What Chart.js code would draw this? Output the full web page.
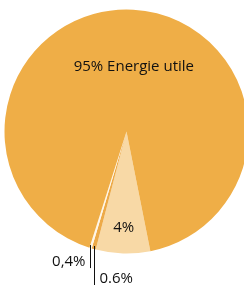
<!DOCTYPE html>
<html>
<head>
<meta charset="utf-8">
<script src="https://cdn.jsdelivr.net/npm/chart.js@4"></script>
<style>
  html, body { margin: 0; padding: 0; background: #fff; width: 244px; height: 285px; overflow: hidden; }
  #wrap { position: absolute; left: 0; top: 0; width: 250px; height: 285px; }
</style>
</head>
<body>
<div id="wrap"><canvas id="c"></canvas></div>
<script>
// Slice values as drawn in the picture (visual share of the circle)
const categories = ['4%', '0.6%', '0,4%', '95% Energie utile'];
const sliceValues = [7.2, 0.55, 0.3, 91.95];
const sliceColors = ['#F8D9A6', '#EDAA48', '#FFF6E6', '#EFAE47'];

const labelPlugin = {
  id: 'labels',
  afterDatasetsDraw(chart) {
    const ctx = chart.ctx;
    const arcs = chart.getDatasetMeta(0).data;
    const font = '15px "Open Sans", "Noto Sans", sans-serif';
    ctx.save();
    ctx.fillStyle = '#111';
    ctx.font = font;
    ctx.textBaseline = 'middle';
    const big = arcs[3];
    const cx = big.x, cy = big.y, r = big.outerRadius;
    ctx.textAlign = 'center';
    ctx.fillText(categories[3], cx + 0.06 * r, cy - 0.53 * r);
    const a0 = arcs[0];
    const m0 = (a0.startAngle + a0.endAngle) / 2;
    ctx.fillText(categories[0], cx + Math.cos(m0) * r * 0.79, cy + Math.sin(m0) * r * 0.79);
    ctx.strokeStyle = '#111';
    ctx.lineWidth = 1;
    const a2 = arcs[2];
    const m2 = (a2.startAngle + a2.endAngle) / 2;
    const x2 = Math.round(cx + Math.cos(m2) * r) - 0.5;
    const y2 = cy + Math.sin(m2) * r - 3;
    ctx.beginPath(); ctx.moveTo(x2, y2); ctx.lineTo(x2, y2 + 23); ctx.stroke();
    ctx.textAlign = 'right';
    ctx.fillText(categories[2], x2 - 5, y2 + 17);
    const a1 = arcs[1];
    const m1 = (a1.startAngle + a1.endAngle) / 2;
    const x1 = Math.round(cx + Math.cos(m1) * r) + 0.5;
    const y1 = cy + Math.sin(m1) * r - 3;
    ctx.beginPath(); ctx.moveTo(x1, y1); ctx.lineTo(x1, y1 + 45); ctx.stroke();
    ctx.textAlign = 'left';
    ctx.fillText(categories[1], x1 + 5, y1 + 33);
    ctx.restore();
  }
};

new Chart(document.getElementById('c'), {
  type: 'pie',
  data: {
    labels: categories,
    datasets: [{ data: sliceValues, backgroundColor: sliceColors, borderWidth: 0 }]
  },
  options: {
    responsive: true,
    maintainAspectRatio: false,
    animation: false,
    rotation: 168.7,
    layout: { padding: { left: 4.5, top: 9.5, right: 1.5, bottom: 31.5 } },
    plugins: { legend: { display: false }, tooltip: { enabled: false } }
  },
  plugins: [labelPlugin]
});
</script>
</body>
</html>
